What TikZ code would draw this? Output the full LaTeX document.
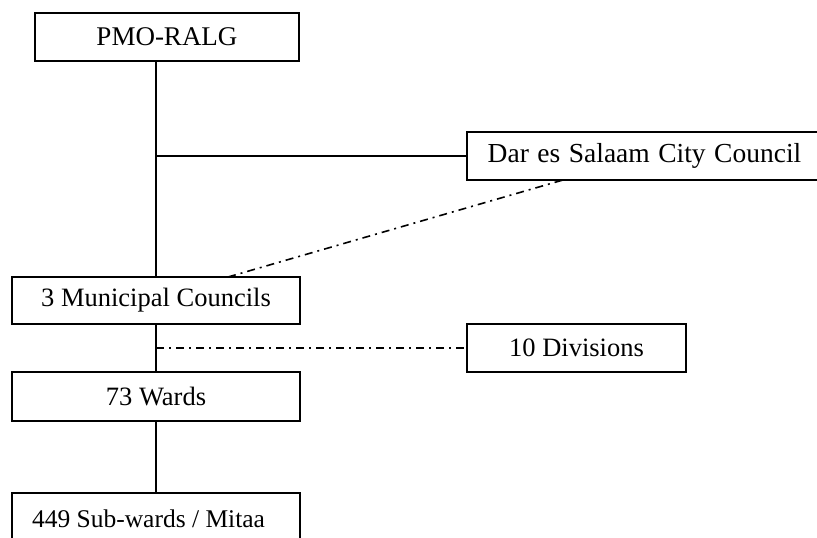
\documentclass[tikz,border=0pt]{standalone}
\usepackage{fontspec}
\setmainfont{Liberation Serif}
\begin{document}
\begin{tikzpicture}[x=1bp,y=-1bp,
  box/.style={draw, line width=1.6bp, rectangle, inner sep=0pt, outer sep=0pt, font=\fontsize{26.5bp}{30bp}\selectfont},
  link/.style={line width=1.6bp},
  dd/.style={line width=1.6bp, dash pattern=on 8bp off 5bp on 2bp off 5bp}]
\useasboundingbox (0,0) rectangle (817,538);
\clip (0,0) rectangle (817,538);
\node[box, minimum width=264bp, minimum height=48bp, font=\fontsize{27bp}{30bp}\selectfont] (pmo) at (167,37) {PMO-RALG};
\node[box, minimum width=355bp, minimum height=48bp, font=\fontsize{27.5bp}{30bp}\selectfont] (dar) at (644.5,156) {\spaceskip=8.5bp plus 1bp Dar es Salaam City Council};
\node[box, minimum width=288bp, minimum height=47bp] (muni) at (156,300.5) {3 Municipal Councils};
\node[box, minimum width=219bp, minimum height=48bp] (div) at (576.5,348) {10 Divisions};
\node[box, minimum width=288bp, minimum height=49bp] (wards) at (156,396.5) {73 Wards};
\node[box, minimum width=288bp, minimum height=52bp, inner xsep=20bp, anchor=north west, font=\fontsize{25.5bp}{30bp}\selectfont] (sub) at (12,493) {\makebox[248bp][l]{449 Sub-wards / Mitaa}};
\draw[link] (muni.north |- pmo.south) -- (muni.north);
\draw[link] (muni.north |- dar.west) -- (dar.west);
\draw[dd] ([xshift=72bp]muni.north) -- ([xshift=-81.5bp]dar.south);
\draw[link] (muni.south) -- (wards.north);
\draw[dd] (muni.south |- div.west) -- (div.west);
\draw[link] (wards.south) -- (sub.north);
\end{tikzpicture}
\end{document}
